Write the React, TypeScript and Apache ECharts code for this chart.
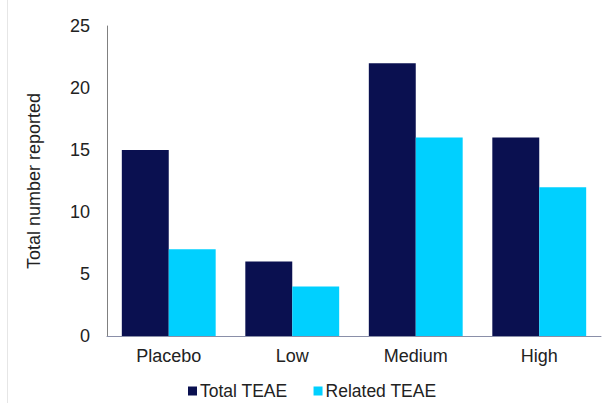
import React, { useEffect, useRef } from "react";
import * as echarts from "echarts";

const categories = ["Placebo", "Low", "Medium", "High"];
const totalTEAE = [15, 6, 22, 16];
const relatedTEAE = [7, 4, 16, 12];

export default function App() {
  const ref = useRef<HTMLDivElement>(null);
  useEffect(() => {
    const chart = echarts.init(ref.current!, null, { renderer: "svg" });
    const font = "Liberation Sans, Arial, sans-serif";
    chart.setOption({
      animation: false,
      backgroundColor: "#ffffff",
      textStyle: { fontFamily: font },
      grid: { left: 107, right: 6, top: 26, bottom: 67, containLabel: false },
      legend: {
        top: 377,
        left: 183,
        itemWidth: 9,
        itemHeight: 9,
        itemGap: 26,
        icon: "rect",
        textStyle: { fontSize: 17.5, color: "#222", fontFamily: font, padding: [0, 0, 0, -2] },
        data: ["Total TEAE", "Related TEAE"],
      },
      xAxis: {
        type: "category",
        data: categories,
        axisLine: { show: true, lineStyle: { color: "#8a8fa8", width: 1 } },
        axisTick: { show: false },
        axisLabel: { fontSize: 18, color: "#222", margin: 11, fontFamily: font },
      },
      yAxis: {
        type: "value",
        min: 0,
        max: 25,
        interval: 5,
        name: "Total number reported",
        nameLocation: "middle",
        nameGap: 64,
        nameRotate: 90,
        nameTextStyle: { fontSize: 18, color: "#222", fontFamily: font },
        axisLine: { show: true, lineStyle: { color: "#808080", width: 1 } },
        axisTick: { show: false },
        splitLine: { show: false },
        axisLabel: { fontSize: 18, color: "#222", margin: 17, fontFamily: font },
      },
      series: [
        {
          name: "Total TEAE",
          type: "bar",
          data: totalTEAE,
          barGap: "0%",
          barCategoryGap: "24%",
          itemStyle: { color: "#0a1050" },
        },
        {
          name: "Related TEAE",
          type: "bar",
          data: relatedTEAE,
          barGap: "0%",
          barCategoryGap: "24%",
          itemStyle: { color: "#00d0ff" },
        },
      ],
      graphic: [
        {
          type: "line",
          shape: { x1: 7.5, y1: 0, x2: 7.5, y2: 403 },
          style: { stroke: "#e6e6e6", lineWidth: 1 },
        },
      ],
    });
    return () => chart.dispose();
  }, []);
  return (
    <div
      ref={ref}
      style={{ position: "fixed", left: 0, top: 0, width: 607, height: 403 }}
    />
  );
}
